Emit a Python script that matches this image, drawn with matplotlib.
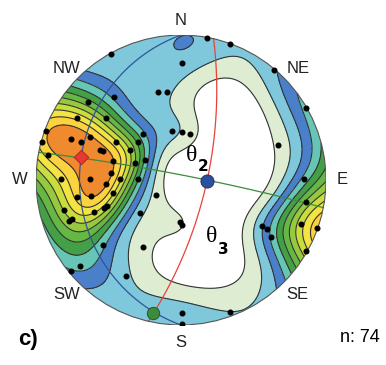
import numpy as np
import matplotlib.pyplot as plt
from matplotlib.patches import Circle, Wedge

# poles: x to the east, y to the north, primitive circle = 1
pole_x = [0.18, 0.34, -0.48, 0.01, 0.64, -0.16, -0.10, 0.86, -0.06, 0.01,
          0.06, 0.67, 0.85, -0.64, -0.46, -0.52, -0.72, -0.93, -0.76, -0.63,
          -0.45, -0.69, -0.56, -0.54, -0.35, -0.92, -0.47, -0.48, -0.26, -0.30,
          -0.25, -0.32, -0.83, -0.63, -0.42, -0.30, -0.52, -0.72, -0.62, -0.47,
          -0.53, -0.51, -0.81, -0.60, -0.77, -0.75, -0.54, -0.70, -0.76, -0.38,
          -0.17, -0.28, -0.01, 0.01, -0.26, 0.01, 0.01, 0.34, 0.86, 0.56,
          0.59, 0.62, 0.83, 0.94, 0.86, -0.96]
pole_y = [0.98, 0.94, 0.87, 0.81, 0.76, 0.61, 0.61, 0.50, 0.34, 0.33,
          0.32, 0.24, 0.01, 0.54, 0.57, 0.43, 0.43, 0.34, 0.28, 0.30,
          0.26, 0.26, 0.21, 0.20, 0.21, 0.17, 0.13, 0.05, 0.32, 0.26,
          0.14, 0.12, 0.01, 0.01, 0.01, 0.01, -0.03, -0.12, -0.11, -0.09,
          -0.19, -0.18, -0.21, -0.22, -0.28, -0.27, -0.45, -0.59, -0.63, -0.66,
          -0.10, -0.23, -0.29, -0.31, -0.46, -0.92, -0.99, -0.91, -0.15, -0.32,
          -0.34, -0.39, -0.30, -0.33, -0.49, 0.26]

theta2_pt = (0.18, -0.01)
green_pt = (-0.19, -0.92)
red_pt = (-0.69, 0.16)

# planes as (dip direction, dip)
plane_blue = (270, 20)
plane_red = (103, 70)
plane_green = (11, 86)

# contour band colours, low to high
band_colors = ['#ffffff', '#deecd2', '#7fc8dc', '#4a7fc9', '#66c5b5', '#43a047',
               '#66b845', '#97c940', '#c9de3c', '#f3e443', '#fbd33f', '#f08a2e']

n_label = 'n: 74'


# lower hemisphere, equal-angle net
def net_to_vec(x, y):
    r = np.sqrt(x**2 + y**2)
    r0 = np.maximum(r, 1e-9)
    th = 2 * np.arctan(np.minimum(r, 1.0))
    return np.stack([np.sin(th) * x / r0, np.sin(th) * y / r0, -np.cos(th)], axis=-1)


def vec_to_net(v):
    th = np.arccos(np.clip(-v[..., 2], -1, 1))
    az = np.arctan2(v[..., 0], v[..., 1])
    r = np.tan(th / 2)
    return r * np.sin(az), r * np.cos(az)


def great_circle(dd, dip):
    dd, dip = np.radians(dd), np.radians(dip)
    s = np.array([np.sin(dd - np.pi / 2), np.cos(dd - np.pi / 2), 0])
    d = np.array([np.cos(dip) * np.sin(dd), np.cos(dip) * np.cos(dd), -np.sin(dip)])
    t = np.linspace(0, np.pi, 200)
    v = np.outer(np.cos(t), s) + np.outer(np.sin(t), d)
    return vec_to_net(v)


poles = net_to_vec(np.array(pole_x), np.array(pole_y))

g = np.linspace(-1.02, 1.02, 241)
gx, gy = np.meshgrid(g, g)
gv = net_to_vec(gx, gy)
k = 16.0
dens = np.zeros(gx.shape)
for p in poles:
    c = np.abs(gv @ p)
    dens += np.exp(k * (c - 1))
dens = dens / dens.max()
dens[np.hypot(gx, gy) > 1.015] = np.nan

fig = plt.figure(figsize=(3.86, 3.65), dpi=100)
ax = fig.add_axes([36 / 386, 40 / 365, 290 / 386, 290 / 365])
ax.set_xlim(-1, 1)
ax.set_ylim(-1, 1)
ax.set_aspect('equal')
ax.axis('off')

levels = np.linspace(0, 1, len(band_colors) + 1) ** 0.65
levels[-1] = 1.0001
ax.contourf(gx, gy, dens, levels=levels, colors=band_colors, zorder=1)
ax.contour(gx, gy, dens, levels=levels[1:-1], colors='#333333', linewidths=0.8, zorder=2)
ax.add_patch(Wedge((0, 0), 1.2, 0, 360, width=0.2, facecolor='white', edgecolor='none', zorder=2.5))

for (dd, dip), col in [(plane_blue, '#2f5597'), (plane_red, '#e8413c'), (plane_green, '#3c8c3c')]:
    x, y = great_circle(dd, dip)
    ax.plot(x, y, color=col, lw=0.9, zorder=3)

ax.add_patch(Circle((0, 0), 1, facecolor='none', edgecolor='#555555', lw=0.8, zorder=4))

ax.scatter(pole_x, pole_y, s=11, color='black', zorder=5)
ax.scatter(*theta2_pt, s=90, color='#2e4fa0', edgecolors='#1a2a5a', lw=0.6, zorder=6)
ax.scatter(*green_pt, s=80, color='#3d8b3d', edgecolors='#1f4f1f', lw=0.6, zorder=6)
ax.scatter(*red_pt, s=55, marker='D', color='#e53935', edgecolors='#a02020', lw=0.6, zorder=6)

ax.text(0.07, 0.17, '\u03b8', fontsize=17, family='Liberation Serif', ha='center', va='center', zorder=7)
ax.text(0.15, 0.09, '2', fontsize=11, weight='bold', ha='center', va='center', zorder=7)
ax.text(0.21, -0.39, '\u03b8', fontsize=17, family='Liberation Serif', ha='center', va='center', zorder=7)
ax.text(0.29, -0.48, '3', fontsize=11, weight='bold', ha='center', va='center', zorder=7)

dirs = {'N': (0.0, 1.10), 'NE': (0.81, 0.77), 'E': (1.11, 0.0), 'SE': (0.80, -0.79),
        'S': (0.0, -1.12), 'SW': (-0.79, -0.79), 'W': (-1.11, 0.0), 'NW': (-0.79, 0.77)}
for lab, (x, y) in dirs.items():
    ax.text(x, y, lab, fontsize=12, family='Liberation Sans', color='#222222',
            ha='center', va='center', clip_on=False, zorder=8)

fig.text(18 / 386, 1 - 340 / 365, 'c)', fontsize=16, weight='bold', family='Liberation Sans',
         ha='left', va='center')
fig.text(380 / 386, 1 - 338 / 365, n_label, fontsize=13, family='Liberation Sans',
         ha='right', va='center')

fig.savefig('out.png', dpi=100)
